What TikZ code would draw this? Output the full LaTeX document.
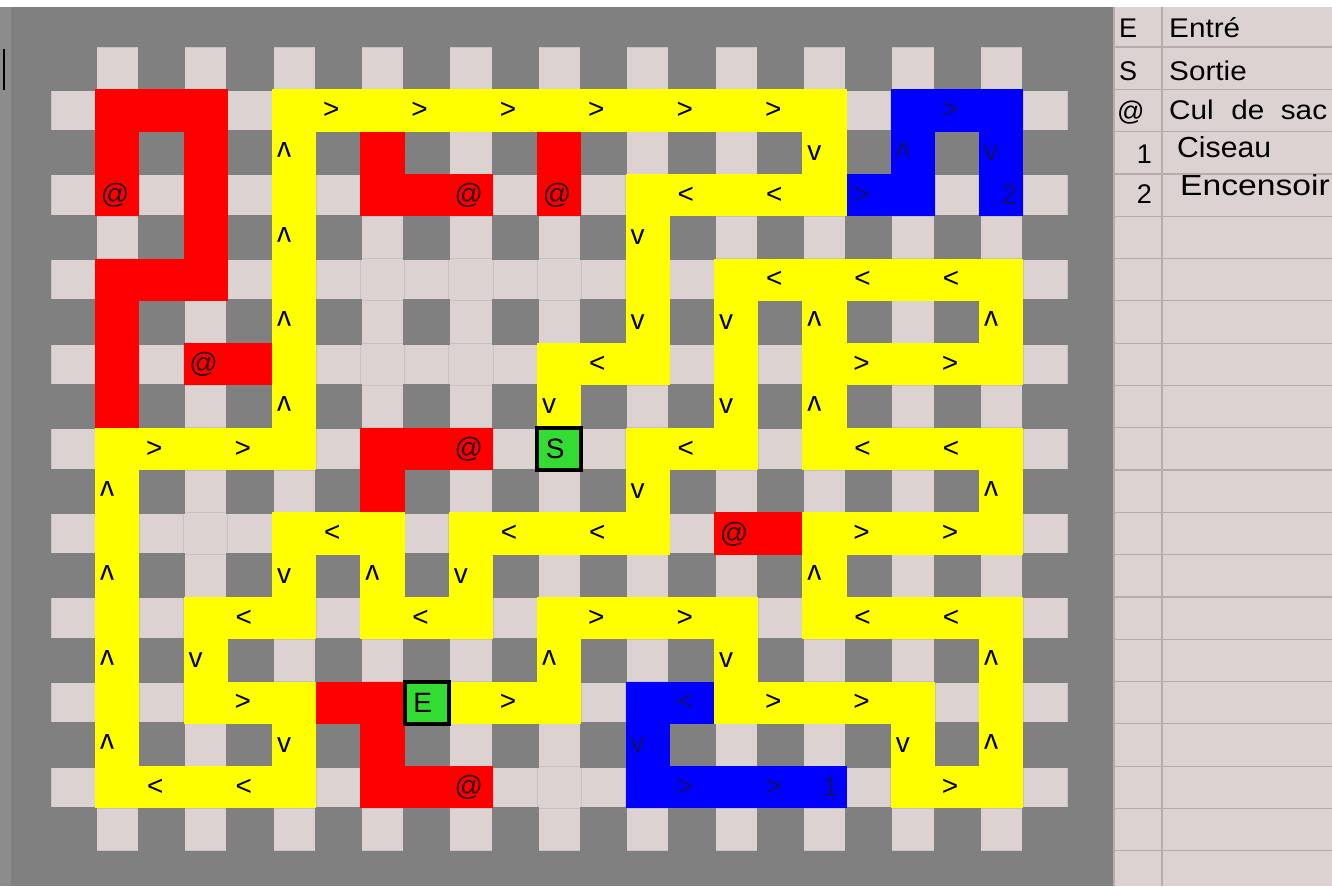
\documentclass[tikz,border=0pt]{standalone}
\usepackage{fontspec}
\usepackage{graphicx}
\setmainfont{Liberation Sans}
\definecolor{mzgrey}{RGB}{128,128,128}
\definecolor{edgegrey}{RGB}{140,140,140}
\definecolor{lite}{RGB}{221,210,210}
\definecolor{gridc}{RGB}{202,192,192}
\definecolor{legline}{RGB}{182,172,172}
\definecolor{yel}{RGB}{255,255,0}
\definecolor{rd}{RGB}{255,0,0}
\definecolor{bl}{RGB}{0,0,255}
\definecolor{grn}{RGB}{50,220,50}
\definecolor{navytext}{RGB}{15,15,110}
\definecolor{redtext}{RGB}{45,0,0}
% row, first col, last col, colour
\newcommand{\mzrun}[4]{\fill[#4] ({51+44.2*(#2)},{47+42.3*(#1)}) rectangle ({51+44.2*(#3+1)},{47+42.3*(#1+1)});}
% col, first row, last row, colour
\newcommand{\mzcol}[4]{\fill[#4] ({51+44.2*(#1)},{47+42.3*(#2)}) rectangle ({51+44.2*(#1+1)},{47+42.3*(#3+1)});}
\newcommand{\wide}[2]{\scalebox{#1}[1]{#2}}
\begin{document}
\begin{tikzpicture}[x=1pt,y=-1pt,
  lab/.style={font=\fontsize{28}{30}\selectfont, inner sep=0pt, text=black},
  blab/.style={lab, text=navytext},
  rlab/.style={lab, text=redtext},
  leg/.style={font=\fontsize{27}{29}\selectfont, inner sep=0pt, anchor=base west},
  legb/.style={font=\fontsize{29}{31}\selectfont, inner sep=0pt, anchor=base west},
  legn/.style={font=\fontsize{27}{29}\selectfont, inner sep=0pt, anchor=base east},
  gline/.style={gridc, line width=0.8pt},
  lline/.style={legline, line width=1.2pt}]
\useasboundingbox (0,0) rectangle (1332,886);
\fill[white] (0,0) rectangle (1332,886);
\fill[mzgrey] (0,7) rectangle (1113,886);
\fill[edgegrey] (0,7) rectangle (11,886);
\draw[black, line width=2pt] (4,49) -- (4,90);
% maze floor
\fill[lite] (51,47) rectangle ({51+44.2*23},{47+42.3*19});
\foreach \c in {0,...,23} \draw[gline] ({51+44.2*\c},47) -- ({51+44.2*\c},{47+42.3*19});
\foreach \r in {0,...,19} \draw[gline] (51,{47+42.3*\r}) -- ({51+44.2*23},{47+42.3*\r});
% pillars
\foreach \r in {0,2,...,18} \foreach \c in {0,2,...,22}
  \fill[mzgrey] ({51+44.2*\c-1.5},{47+42.3*\r-1.5}) rectangle ({51+44.2*(\c+1)+1.5},{47+42.3*(\r+1)+1.5});
% yellow path
\mzrun{1}{5}{17}{yel}
\mzrun{3}{13}{17}{yel}
\mzrun{5}{15}{21}{yel}
\mzrun{7}{11}{13}{yel}
\mzrun{7}{17}{21}{yel}
\mzrun{9}{1}{5}{yel}
\mzrun{9}{13}{15}{yel}
\mzrun{9}{17}{21}{yel}
\mzrun{11}{5}{7}{yel}
\mzrun{11}{9}{13}{yel}
\mzrun{11}{17}{21}{yel}
\mzrun{13}{3}{5}{yel}
\mzrun{13}{7}{9}{yel}
\mzrun{13}{11}{15}{yel}
\mzrun{13}{17}{21}{yel}
\mzrun{15}{3}{5}{yel}
\mzrun{15}{9}{11}{yel}
\mzrun{15}{15}{19}{yel}
\mzrun{17}{1}{5}{yel}
\mzrun{17}{19}{21}{yel}
\mzcol{5}{1}{9}{yel}
\mzcol{17}{1}{3}{yel}
\mzcol{13}{3}{7}{yel}
\mzcol{13}{9}{11}{yel}
\mzcol{15}{5}{9}{yel}
\mzcol{17}{5}{9}{yel}
\mzcol{21}{5}{7}{yel}
\mzcol{21}{9}{11}{yel}
\mzcol{21}{13}{17}{yel}
\mzcol{11}{7}{8}{yel}
\mzcol{1}{9}{17}{yel}
\mzcol{17}{11}{13}{yel}
\mzcol{5}{11}{13}{yel}
\mzcol{7}{11}{13}{yel}
\mzcol{9}{11}{13}{yel}
\mzcol{3}{13}{15}{yel}
\mzcol{11}{13}{15}{yel}
\mzcol{15}{13}{15}{yel}
\mzcol{5}{15}{17}{yel}
\mzcol{19}{15}{17}{yel}
% red dead ends
\mzrun{1}{1}{3}{rd}
\mzrun{3}{7}{9}{rd}
\mzrun{5}{1}{3}{rd}
\mzrun{7}{3}{4}{rd}
\mzrun{9}{7}{9}{rd}
\mzrun{11}{15}{16}{rd}
\mzrun{15}{6}{7}{rd}
\mzrun{17}{7}{9}{rd}
\mzcol{1}{1}{3}{rd}
\mzcol{3}{1}{5}{rd}
\mzcol{1}{5}{8}{rd}
\mzcol{7}{2}{3}{rd}
\mzcol{11}{2}{3}{rd}
\mzcol{7}{9}{10}{rd}
\mzcol{7}{15}{17}{rd}
% blue branches
\mzrun{1}{19}{21}{bl}
\mzrun{3}{18}{19}{bl}
\mzcol{19}{1}{3}{bl}
\mzcol{21}{1}{3}{bl}
\mzrun{15}{13}{14}{bl}
\mzrun{17}{13}{17}{bl}
\mzcol{13}{15}{17}{bl}
% entry and exit
\foreach \r/\c/\t in {9/11/S,15/8/E} {
  \fill[grn] ({51+44.2*\c},{47+42.3*\r}) rectangle ({51+44.2*(\c+1)},{47+42.3*(\r+1)});
  \draw[black, line width=4pt] ({51+44.2*\c},{47+42.3*\r}) rectangle ({51+44.2*(\c+1)},{47+42.3*(\r+1)});
  \node[lab] (cell\t) at ({51+44.2*\c+18},{47+42.3*\r+21.15}) {\t};
}
% arrows
\foreach \r/\c in {1/6,1/8,1/10,1/12,1/14,1/16,7/18,7/20,9/2,9/4,11/18,11/20,13/12,13/14,15/4,15/10,15/16,15/18,17/20}
  \node[lab] (gt-\r-\c) at ({51+44.2*\c+15},{47+42.3*\r+21.15}) {>};
\foreach \r/\c in {1/20,3/18,17/14,17/16}
  \node[blab] (bgt-\r-\c) at ({51+44.2*\c+15},{47+42.3*\r+21.15}) {>};
\foreach \r/\c in {3/14,3/16,5/16,5/18,5/20,7/12,9/14,9/18,9/20,11/6,11/10,11/12,13/4,13/8,13/18,13/20,17/2,17/4}
  \node[lab] (lt-\r-\c) at ({51+44.2*\c+16},{47+42.3*\r+21.15}) {<};
\foreach \r/\c in {15/14}
  \node[blab] (blt-\r-\c) at ({51+44.2*\c+16},{47+42.3*\r+21.15}) {<};
\foreach \r/\c in {2/5,4/5,6/5,6/17,6/21,8/5,8/17,10/1,10/21,12/1,12/7,12/17,14/1,14/11,14/21,16/1,16/21}
  \node[lab, rotate=180] (up-\r-\c) at ({51+44.2*\c+12},{47+42.3*\r+18.5}) {v};
\foreach \r/\c in {2/19}
  \node[blab, rotate=180] (bup-\r-\c) at ({51+44.2*\c+12},{47+42.3*\r+18.5}) {v};
\foreach \r/\c in {2/17,4/13,6/13,6/15,8/11,8/15,10/13,12/5,12/9,14/3,14/15,16/5,16/19}
  \node[lab] (dn-\r-\c) at ({51+44.2*\c+12},{47+42.3*\r+21.15}) {v};
\foreach \r/\c in {2/21,16/13}
  \node[blab] (bdn-\r-\c) at ({51+44.2*\c+12},{47+42.3*\r+21.15}) {v};
\foreach \r/\c in {3/1,3/9,3/11,7/3,9/9,11/15,17/9}
  \node[rlab] (at-\r-\c) at ({51+44.2*\c+20},{47+42.3*\r+21.5}) {@};
\node[blab, anchor=east] (num1) at ({51+44.2*18-8},{47+42.3*17+21.15}) {1};
\node[blab, anchor=east] (num2) at ({51+44.2*22-6},{47+42.3*3+21.15}) {2};
% legend sheet
\fill[lite] (1113,7) rectangle (1332,886);
\draw[legline, line width=2pt] (1114,7) -- (1114,886);
\foreach \r in {0,...,19} \draw[lline] (1113,{47+42.3*\r}) -- (1332,{47+42.3*\r});
\draw[lline] (1162,7) -- (1162,886);
\begin{scope}
\clip (1113,7) rectangle (1332,886);
\node[leg] (kE) at (1119,37) {E};
\node[leg] (tE) at (1169,37) {\wide{1.1}{Entré}};
\node[leg] (kS) at (1119,80) {S};
\node[leg] (tS) at (1169,80) {\wide{1.1}{Sortie}};
\node[leg] (kA) at (1117,120) {@};
\node[leg] (tA) at (1169,119) {\wide{1.1}{Cul\hspace{16pt}de\hspace{15pt}sac}};
\node[legn] (k1) at (1152,163) {1};
\node[legb] (t1) at (1177,157) {\wide{1.04}{Ciseau}};
\node[legn] (k2) at (1152,203) {2};
\node[legb] (t2) at (1180,195) {\wide{1.16}{Encensoir}};
\end{scope}
\end{tikzpicture}
\end{document}
